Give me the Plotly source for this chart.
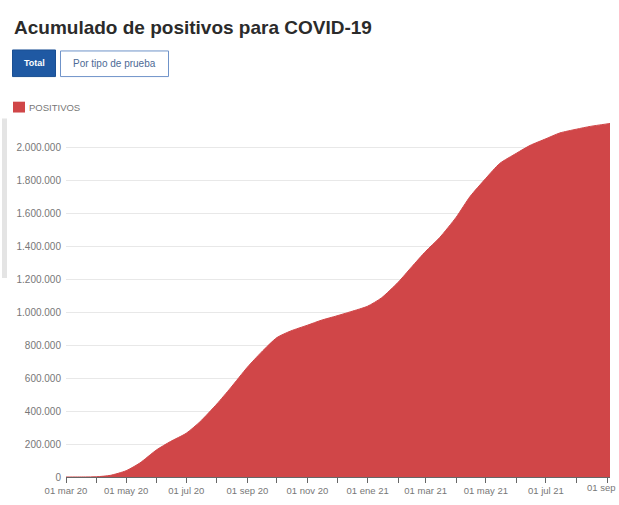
import plotly.graph_objects as go

# ---- data ----
dates = ["2020-03-01", "2020-03-06", "2020-03-15", "2020-04-01", "2020-04-15",
         "2020-05-01", "2020-05-15", "2020-06-01", "2020-06-15", "2020-07-01",
         "2020-07-15", "2020-08-01", "2020-08-15", "2020-09-01", "2020-09-15",
         "2020-10-01", "2020-10-15", "2020-11-01", "2020-11-15", "2020-12-01",
         "2020-12-15", "2021-01-01", "2021-01-15", "2021-02-01", "2021-02-15",
         "2021-03-01", "2021-03-15", "2021-04-01", "2021-04-15", "2021-05-01",
         "2021-05-15", "2021-06-01", "2021-06-15", "2021-07-01", "2021-07-15",
         "2021-08-01", "2021-08-15", "2021-09-01", "2021-09-04"]
positivos = [0, 0, 100, 1500, 10000,
             38000, 85000, 165000, 215000, 265000,
             335000, 442000, 540000, 665000, 755000,
             845000, 885000, 920000, 950000, 977000,
             1002000, 1035000, 1085000, 1180000, 1275000,
             1368000, 1450000, 1575000, 1700000, 1810000,
             1900000, 1962000, 2010000, 2050000, 2085000,
             2108000, 2125000, 2140000, 2143000]

month_ticks = ["2020-03-01", "2020-04-01", "2020-05-01", "2020-06-01", "2020-07-01",
               "2020-08-01", "2020-09-01", "2020-10-01", "2020-11-01", "2020-12-01",
               "2021-01-01", "2021-02-01", "2021-03-01", "2021-04-01", "2021-05-01",
               "2021-06-01", "2021-07-01", "2021-08-01", "2021-09-01"]
month_labels = ["01 mar 20", "", "01 may 20", "", "01 jul 20", "", "01 sep 20", "",
                "01 nov 20", "", "01 ene 21", "", "01 mar 21", "", "01 may 21", "",
                "01 jul 21", "", "01 sep"]
y_ticks = [0, 200000, 400000, 600000, 800000, 1000000, 1200000, 1400000,
           1600000, 1800000, 2000000]

title_text = "Acumulado de positivos para COVID-19"
series_name = "POSITIVOS"
button_labels = ["Total", "Por tipo de prueba"]

# ---- layout geometry (pixels) ----
W, H = 619, 505
L, R, T, B = 66, 9, 113.5, 23
PW, PH = W - L - R, H - T - B


def px(x):
    return (x - L) / PW


def py(y):
    return (H - B - y) / PH


RED = "#d04648"
FONT = "Liberation Sans, Arial"
TICK_FONT = dict(family=FONT, size=9.5, color="#777777")

fig = go.Figure()
fig.add_trace(go.Scatter(
    x=dates, y=positivos, name=series_name, mode="lines",
    line=dict(color=RED, width=1, shape="spline", smoothing=0.6),
    fill="tozeroy", fillcolor=RED, showlegend=False, hoverinfo="x+y"))

shapes = [
    # Total button
    dict(type="rect", xref="paper", yref="paper", x0=px(12.5), x1=px(55.5),
         y0=py(75.5), y1=py(48.5), fillcolor="#1f59a3",
         line=dict(color="#1a4f93", width=1), layer="above"),
    # Por tipo de prueba button
    dict(type="rect", xref="paper", yref="paper", x0=px(60.5), x1=px(168.5),
         y0=py(75.5), y1=py(49.5), fillcolor="white",
         line=dict(color="#6f93c9", width=1), layer="above"),
    # legend swatch
    dict(type="rect", xref="paper", yref="paper", x0=px(13), x1=px(25),
         y0=py(112), y1=py(101), fillcolor=RED, line=dict(width=0)),
    # left-edge grey bar (page artifact)
    dict(type="rect", xref="paper", yref="paper", x0=px(2), x1=px(7),
         y0=py(280), y1=py(118), fillcolor="#e4e4e4", line=dict(width=0)),
]

# last tick label sits at the right edge, drawn as an annotation so it stays visible
last_label = month_labels[-1]
tick_text = month_labels[:-1] + [""]

annotations = [
    dict(text="<b>" + title_text + "</b>", xref="paper", yref="paper",
         x=px(12), y=py(26), xanchor="left", yanchor="middle", showarrow=False,
         font=dict(family=FONT, size=19, color="#2b2b2b")),
    dict(text="<b>" + button_labels[0] + "</b>", xref="paper", yref="paper",
         x=px(34), y=py(62), xanchor="center", yanchor="middle", showarrow=False,
         font=dict(family=FONT, size=9, color="white")),
    dict(text=button_labels[1], xref="paper", yref="paper",
         x=px(114.5), y=py(62.5), xanchor="center", yanchor="middle", showarrow=False,
         font=dict(family=FONT, size=10, color="#4d6a95")),
    dict(text=series_name, xref="paper", yref="paper",
         x=px(27), y=py(106.5), xanchor="left", yanchor="middle", showarrow=False,
         font=dict(family=FONT, size=9.5, color="#777777")),
    dict(text=last_label, xref="paper", yref="paper",
         x=px(618), y=py(493), xanchor="right", yanchor="middle",
         showarrow=False, font=TICK_FONT),
]

fig.update_layout(
    width=W, height=H, autosize=False,
    margin=dict(l=L, r=R, t=T, b=B, pad=0),
    paper_bgcolor="white", plot_bgcolor="white",
    separators=",.",
    shapes=shapes, annotations=annotations,
    font=dict(family=FONT, color="#777777", size=9.5),
    xaxis=dict(
        type="date", range=["2020-03-01", "2021-09-04"],
        tickmode="array", tickvals=month_ticks, ticktext=tick_text,
        ticks="outside", ticklen=5, tickcolor="#666666", tickwidth=1,
        showline=True, linecolor="#666666", linewidth=1,
        showgrid=False, zeroline=False,
        tickfont=TICK_FONT,
    ),
    yaxis=dict(
        range=[0, 2200000], tickmode="array", tickvals=y_ticks,
        tickformat=",d", showgrid=True, gridcolor="#e8e8e8", gridwidth=1,
        zeroline=False, showline=False, ticks="", ticklabelstandoff=4,
        tickfont=dict(family=FONT, size=10, color="#777777"),
    ),
)

fig.write_html(
    "out.html",
    config={"displayModeBar": False},
    post_script="document.body.style.margin='0';document.body.style.overflow='hidden';",
)
